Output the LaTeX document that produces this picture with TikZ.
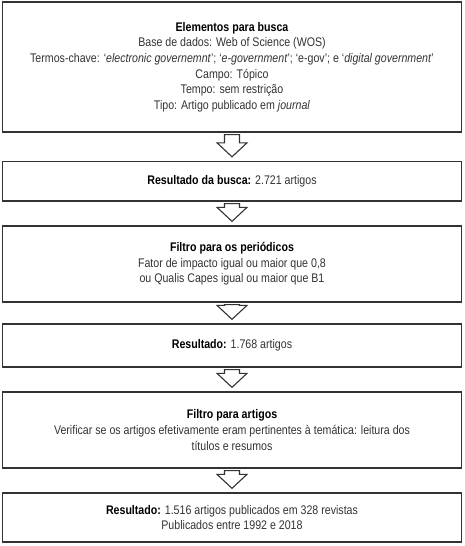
\documentclass[tikz,border=0pt]{standalone}
\usepackage{fontspec}
\setmainfont{Liberation Sans}[FakeStretch=0.85]
\usetikzlibrary{calc}
\definecolor{edge}{HTML}{333333}
\definecolor{txt}{HTML}{333333}
\tikzset{
  box/.style={draw=edge, line width=1.3pt, minimum width=459pt, inner sep=0pt, align=center, text=txt,
    font=\fontsize{12.5pt}{15.6pt}\selectfont},
  arr/.style={draw=edge, line width=1.1pt, fill=white, line join=miter},
}
\newcommand\blockarrow[2]{%
  \draw[arr] ($(#1.south)+(-7.5,-2)$) -- ($(#2.north)+(-7.5,18)$) -- ++(-7.5,0)
    -- ($(#2.north)+(0,4)$) -- ++(15,14) -- ++(-7.5,0) -- ($(#1.south)+(7.5,-2)$) -- cycle;}
\newcommand\ttl[1]{{\color{black}\bfseries #1}}
\begin{document}
\begin{tikzpicture}[x=1pt,y=1pt]
\useasboundingbox (0,0) rectangle (464,-546);
\node[box, minimum height=130pt] (b1) at (232,-67) {\ttl{Elementos para busca}\\
Base de dados: Web of Science (WOS)\\
Termos-chave: ‘\textit{electronic governemnt}’; ‘\textit{e-government}’; ‘e-gov’; e ‘\textit{digital government}’\\
Campo: Tópico\\
Tempo: sem restrição\\
Tipo: Artigo publicado em \textit{journal}};
\node[box, minimum height=39.5pt] (b2) at (232,-181.2) {\ttl{Resultado da busca:} 2.721 artigos};
\node[box, minimum height=76pt] (b3) at (232,-264) {\ttl{Filtro para os periódicos}\\
Fator de impacto igual ou maior que 0,8\\
ou Qualis Capes igual ou maior que B1};
\node[box, minimum height=43pt] (b4) at (232,-345.5) {\ttl{Resultado:} 1.768 artigos};
\node[box, minimum height=76pt] (b5) at (232,-430) {\ttl{Filtro para artigos}\\
Verificar se os artigos efetivamente eram pertinentes à temática: leitura dos\\
títulos e resumos};
\node[box, minimum height=49pt] (b6) at (232,-517.5) {\ttl{Resultado:} 1.516 artigos publicados em 328 revistas\\
Publicados entre 1992 e 2018};
\blockarrow{b1}{b2}
\blockarrow{b2}{b3}
\blockarrow{b3}{b4}
\blockarrow{b4}{b5}
\blockarrow{b5}{b6}
\end{tikzpicture}
\end{document}
